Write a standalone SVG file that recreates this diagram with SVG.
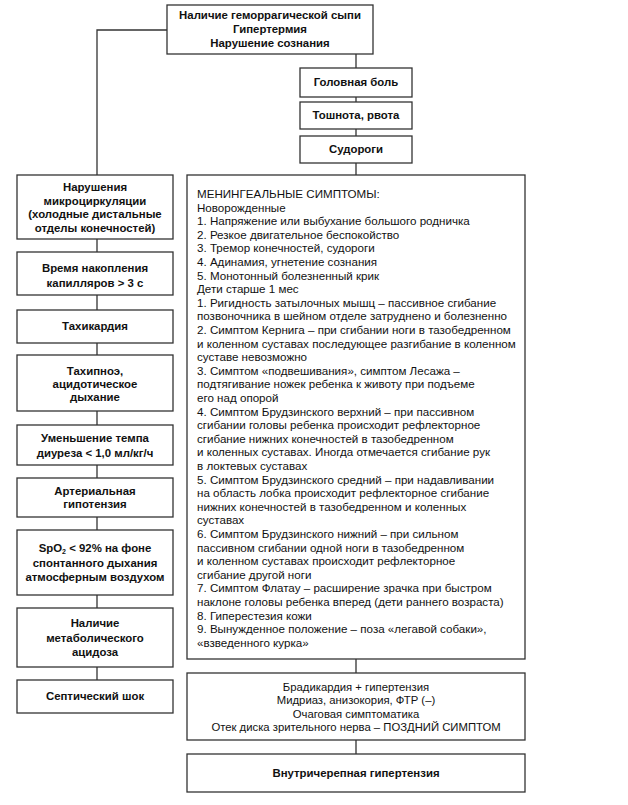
<svg xmlns="http://www.w3.org/2000/svg" width="628" height="805" viewBox="0 0 628 805">
<style>
.box{fill:#fff;stroke:#333;stroke-width:1.3}
.ln{fill:none;stroke:#333;stroke-width:1.3}
.b{font-family:"Liberation Sans",Arial,sans-serif;font-weight:bold;font-size:11.4px;fill:#111;text-anchor:middle}
.r{font-family:"Liberation Sans",Arial,sans-serif;font-size:11.6px;fill:#111}
.c{text-anchor:middle;font-size:11.3px}
</style>
<rect width="628" height="805" fill="#fff"/>
<g id="connectors">
<path class="ln" d="M167,30 H97 V175"/>
<path class="ln" d="M356,54 V68 M356,97 V102 M356,129 V136 M356,163 V175"/>
<path class="ln" d="M97,239 V252 M97,295 V310 M97,343 V355 M97,411 V425 M97,465 V478 M97,517 V530 M97,595 V608 M97,667 V680"/>
<path class="ln" d="M356,659 V673 M356,740 V754"/>
</g>
<g id="top"><rect class="box" x="167" y="5" width="206" height="49"/>
<text class="b" x="270" y="19">Наличие геморрагической сыпи</text>
<text class="b" x="270" y="33">Гипертермия</text>
<text class="b" x="270" y="47">Нарушение сознания</text></g>
<g id="headache"><rect class="box" x="300" y="68" width="112" height="29"/><text class="b" x="356" y="86">Головная боль</text></g>
<g id="nausea"><rect class="box" x="300" y="102" width="112" height="27"/><text class="b" x="356" y="119">Тошнота, рвота</text></g>
<g id="seizures"><rect class="box" x="300" y="136" width="112" height="27"/><text class="b" x="356" y="153">Судороги</text></g>
<g id="micro"><rect class="box" x="17" y="175" width="156" height="64"/>
<text class="b" x="95" y="191">Нарушения</text>
<text class="b" x="95" y="205">микроциркуляции</text>
<text class="b" x="95" y="218">(холодные дистальные</text>
<text class="b" x="95" y="232">отделы конечностей)</text></g>
<g id="capillary"><rect class="box" x="17" y="252" width="156" height="43"/>
<text class="b" x="95" y="272">Время накопления</text>
<text class="b" x="95" y="287">капилляров &gt; 3 с</text></g>
<g id="tachycardia"><rect class="box" x="17" y="310" width="156" height="33"/>
<text class="b" x="95" y="330">Тахикардия</text></g>
<g id="tachypnea"><rect class="box" x="17" y="355" width="156" height="56"/>
<text class="b" x="95" y="375">Тахипноэ,</text>
<text class="b" x="95" y="388">ацидотическое</text>
<text class="b" x="95" y="401">дыхание</text></g>
<g id="diuresis"><rect class="box" x="17" y="425" width="156" height="40"/>
<text class="b" x="95" y="442">Уменьшение темпа</text>
<text class="b" x="95" y="457">диуреза &lt; 1,0 мл/кг/ч</text></g>
<g id="hypotension"><rect class="box" x="17" y="478" width="156" height="39"/>
<text class="b" x="95" y="495">Артериальная</text>
<text class="b" x="95" y="508">гипотензия</text></g>
<g id="spo2"><rect class="box" x="17" y="530" width="156" height="65"/>
<text class="b" x="95" y="552">SpO<tspan font-size="7" dy="2">2</tspan><tspan dy="-2"> &lt; 92% на фоне</tspan></text>
<text class="b" x="95" y="567">спонтанного дыхания</text>
<text class="b" x="95" y="581">атмосферным воздухом</text></g>
<g id="acidosis"><rect class="box" x="17" y="608" width="156" height="59"/>
<text class="b" x="95" y="627">Наличие</text>
<text class="b" x="95" y="642">метаболического</text>
<text class="b" x="95" y="656">ацидоза</text></g>
<g id="shock"><rect class="box" x="17" y="680" width="156" height="33"/>
<text class="b" x="95" y="700">Септический шок</text></g>
<g id="meningeal"><rect class="box" x="187" y="175" width="338" height="484"/>
<text class="r" x="197" y="198">МЕНИНГЕАЛЬНЫЕ СИМПТОМЫ:</text>
<text class="r" x="197" y="211.6">Новорожденные</text>
<text class="r" x="197" y="225.2">1. Напряжение или выбухание большого родничка</text>
<text class="r" x="197" y="238.8">2. Резкое двигательное беспокойство</text>
<text class="r" x="197" y="252.4">3. Тремор конечностей, судороги</text>
<text class="r" x="197" y="266">4. Адинамия, угнетение сознания</text>
<text class="r" x="197" y="279.6">5. Монотонный болезненный крик</text>
<text class="r" x="197" y="293.2">Дети старше 1 мес</text>
<text class="r" x="197" y="306.8">1. Ригидность затылочных мышц – пассивное сгибание</text>
<text class="r" x="197" y="320.4">позвоночника в шейном отделе затруднено и болезненно</text>
<text class="r" x="197" y="334">2. Симптом Кернига – при сгибании ноги в тазобедренном</text>
<text class="r" x="197" y="347.6">и коленном суставах последующее разгибание в коленном</text>
<text class="r" x="197" y="361.2">суставе невозможно</text>
<text class="r" x="197" y="374.8">3. Симптом «подвешивания», симптом Лесажа –</text>
<text class="r" x="197" y="388.4">подтягивание ножек ребенка к животу при подъеме</text>
<text class="r" x="197" y="402">его над опорой</text>
<text class="r" x="197" y="415.6">4. Симптом Брудзинского верхний – при пассивном</text>
<text class="r" x="197" y="429.2">сгибании головы ребенка происходит рефлекторное</text>
<text class="r" x="197" y="442.8">сгибание нижних конечностей в тазобедренном</text>
<text class="r" x="197" y="456.4">и коленных суставах. Иногда отмечается сгибание рук</text>
<text class="r" x="197" y="470">в локтевых суставах</text>
<text class="r" x="197" y="483.6">5. Симптом Брудзинского средний – при надавливании</text>
<text class="r" x="197" y="497.2">на область лобка происходит рефлекторное сгибание</text>
<text class="r" x="197" y="510.8">нижних конечностей в тазобедренном и коленных</text>
<text class="r" x="197" y="524.4">суставах</text>
<text class="r" x="197" y="538">6. Симптом Брудзинского нижний – при сильном</text>
<text class="r" x="197" y="551.6">пассивном сгибании одной ноги в тазобедренном</text>
<text class="r" x="197" y="565.2">и коленном суставах происходит рефлекторное</text>
<text class="r" x="197" y="578.8">сгибание другой ноги</text>
<text class="r" x="197" y="592.4">7. Симптом Флатау – расширение зрачка при быстром</text>
<text class="r" x="197" y="606">наклоне головы ребенка вперед (дети раннего возраста)</text>
<text class="r" x="197" y="619.6">8. Гиперестезия кожи</text>
<text class="r" x="197" y="633.2">9. Вынужденное положение – поза «легавой собаки»,</text>
<text class="r" x="197" y="646.8">«взведенного курка»</text></g>
<g id="icp-signs"><rect class="box" x="187" y="673" width="338" height="67"/>
<text class="r c" x="356" y="691">Брадикардия + гипертензия</text>
<text class="r c" x="356" y="704">Мидриаз, анизокория, ФТР (–)</text>
<text class="r c" x="356" y="718">Очаговая симптоматика</text>
<text class="r c" x="356" y="731">Отек диска зрительного нерва – ПОЗДНИЙ СИМПТОМ</text></g>
<g id="icp"><rect class="box" x="187" y="754" width="338" height="38"/>
<text class="b" x="356" y="777">Внутричерепная гипертензия</text></g>
</svg>
